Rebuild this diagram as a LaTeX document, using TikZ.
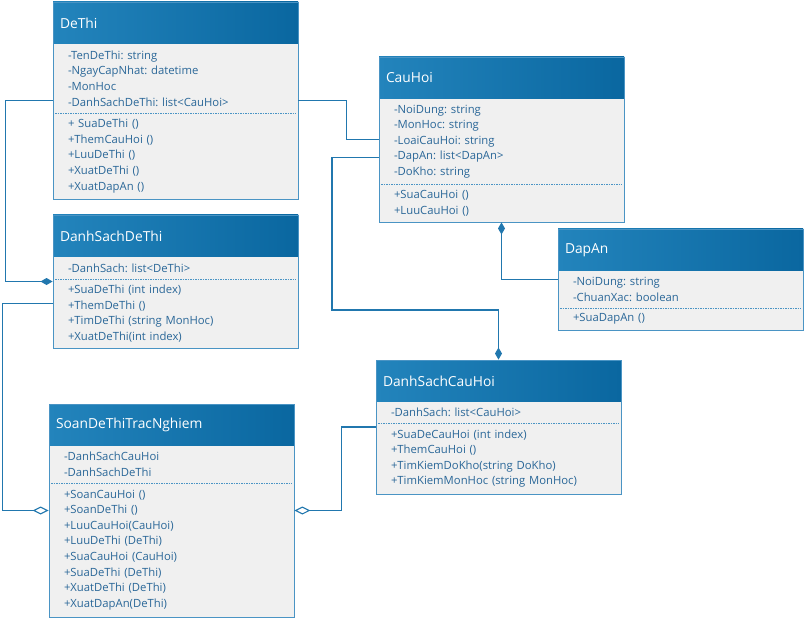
\documentclass[tikz,border=0pt]{standalone}
\usepackage{fontspec}
\setmainfont{Open Sans}
\frenchspacing
\usetikzlibrary{arrows.meta,positioning,fit}
\definecolor{HeadLight}{HTML}{2384BC}
\definecolor{HeadDark}{HTML}{0A67A0}
\definecolor{BodyGray}{HTML}{F0F0F0}
\definecolor{FrameBlue}{HTML}{4A94C4}
\definecolor{LinkBlue}{HTML}{2177AE}
\definecolor{TextBlue}{HTML}{2A6798}
\tikzset{
umlhead/.style={anchor=north west, left color=HeadLight, right color=HeadDark, text=white, text width=231pt, inner xsep=7pt, inner ysep=0pt, minimum height=42pt, outer sep=0pt, align=left, font=\fontsize{13.8}{16}\selectfont},
umlbody/.style={fill=BodyGray, text=TextBlue, text width=215pt, inner xsep=15pt, inner ysep=0pt, outer sep=0pt, align=left, font=\fontsize{11.3}{15.6}\selectfont},
umlframe/.style={draw=FrameBlue, line width=0.9pt, inner sep=0pt},
umlsep/.style={draw=FrameBlue, line width=0.8pt, dash pattern=on 1.5pt off 1pt},
umllink/.style={draw=LinkBlue, line width=1.1pt},
umlcompo/.style={umllink, -{Diamond[length=12pt, width=7pt]}},
umlaggr/.style={umllink, -{Diamond[open, fill=white, length=16pt, width=8pt]}}
}
\begin{document}
\begin{tikzpicture}[x=1pt, y=-1pt]
  \fill[white] (0,0) rectangle (805,620);
  \useasboundingbox (0,0) rectangle (805,620);
  % DeThi
  \node[umlhead] (dethi-h) at (53,2) {DeThi};
  \node[umlbody, minimum height=69pt, below=0pt of dethi-h] (dethi-a) {-TenDeThi: string\\-NgayCapNhat: datetime\\-MonHoc\\-DanhSachDeThi: list<CauHoi>};
  \node[umlbody, minimum height=86pt, below=0pt of dethi-a] (dethi-m) {+ SuaDeThi ()\\+ThemCauHoi ()\\+LuuDeThi ()\\+XuatDeThi ()\\+XuatDapAn ()};
  \draw[umlsep] ([xshift=2pt]dethi-a.south west) -- ([xshift=-2pt]dethi-a.south east);
  \node[umlframe, fit=(dethi-h)(dethi-m)] (dethi) {};
  % CauHoi
  \node[umlhead] (cauhoi-h) at (379,57) {CauHoi};
  \node[umlbody, minimum height=85pt, below=0pt of cauhoi-h] (cauhoi-a) {-NoiDung: string\\-MonHoc: string\\-LoaiCauHoi: string\\-DapAn: list<DapAn>\\-DoKho: string};
  \node[umlbody, minimum height=38pt, below=0pt of cauhoi-a] (cauhoi-m) {+SuaCauHoi ()\\+LuuCauHoi ()};
  \draw[umlsep] ([xshift=2pt]cauhoi-a.south west) -- ([xshift=-2pt]cauhoi-a.south east);
  \node[umlframe, fit=(cauhoi-h)(cauhoi-m)] (cauhoi) {};
  % DapAn
  \node[umlhead] (dapan-h) at (558,229) {DapAn};
  \node[umlbody, minimum height=37pt, below=0pt of dapan-h] (dapan-a) {-NoiDung: string\\-ChuanXac: boolean};
  \node[umlbody, minimum height=22pt, below=0pt of dapan-a] (dapan-m) {+SuaDapAn ()};
  \draw[umlsep] ([xshift=2pt]dapan-a.south west) -- ([xshift=-2pt]dapan-a.south east);
  \node[umlframe, fit=(dapan-h)(dapan-m)] (dapan) {};
  % DanhSachDeThi
  \node[umlhead] (dsdethi-h) at (53,215) {DanhSachDeThi};
  \node[umlbody, minimum height=22pt, below=0pt of dsdethi-h] (dsdethi-a) {-DanhSach: list<DeThi>};
  \node[umlbody, minimum height=69pt, below=0pt of dsdethi-a] (dsdethi-m) {+SuaDeThi (int index)\\+ThemDeThi ()\\+TimDeThi (string MonHoc)\\+XuatDeThi(int index)};
  \draw[umlsep] ([xshift=2pt]dsdethi-a.south west) -- ([xshift=-2pt]dsdethi-a.south east);
  \node[umlframe, fit=(dsdethi-h)(dsdethi-m)] (dsdethi) {};
  % SoanDeThiTracNghiem
  \node[umlhead] (soan-h) at (49,404) {SoanDeThiTracNghiem};
  \node[umlbody, minimum height=37pt, below=0pt of soan-h] (soan-a) {-DanhSachCauHoi\\-DanhSachDeThi};
  \node[umlbody, minimum height=134pt, below=0pt of soan-a] (soan-m) {+SoanCauHoi ()\\+SoanDeThi ()\\+LuuCauHoi(CauHoi)\\+LuuDeThi (DeThi)\\+SuaCauHoi (CauHoi)\\+SuaDeThi (DeThi)\\+XuatDeThi (DeThi)\\+XuatDapAn(DeThi)};
  \draw[umlsep] ([xshift=2pt]soan-a.south west) -- ([xshift=-2pt]soan-a.south east);
  \node[umlframe, fit=(soan-h)(soan-m)] (soan) {};
  % DanhSachCauHoi
  \node[umlhead] (dscauhoi-h) at (376,360) {DanhSachCauHoi};
  \node[umlbody, minimum height=21pt, below=0pt of dscauhoi-h] (dscauhoi-a) {-DanhSach: list<CauHoi>};
  \node[umlbody, minimum height=71pt, below=0pt of dscauhoi-a] (dscauhoi-m) {+SuaDeCauHoi (int index)\\+ThemCauHoi ()\\+TimKiemDoKho(string DoKho)\\+TimKiemMonHoc (string MonHoc)};
  \draw[umlsep] ([xshift=2pt]dscauhoi-a.south west) -- ([xshift=-2pt]dscauhoi-a.south east);
  \node[umlframe, fit=(dscauhoi-h)(dscauhoi-m)] (dscauhoi) {};
  % connectors
  \coordinate (qbend) at (332,310);
  \draw[umlcompo] (dethi.west) -- ++(-47,0) |- (dsdethi.west);
  \draw[umllink] (dethi.east) -- ++(48,0) |- (cauhoi.west);
  \draw[umlcompo] ([yshift=-18pt]cauhoi.west) -| (qbend) -| (dscauhoi.north);
  \draw[umllink, {Diamond[length=12pt, width=7pt]}-] (cauhoi.south) |- (dapan.west);
  \draw[umlaggr] ([yshift=-22pt]dsdethi.west) -- ++(-50,0) |- (soan.west);
  \draw[umlaggr] (dscauhoi.west) -- ++(-34,0) |- (soan.east);
\end{tikzpicture}
\end{document}
